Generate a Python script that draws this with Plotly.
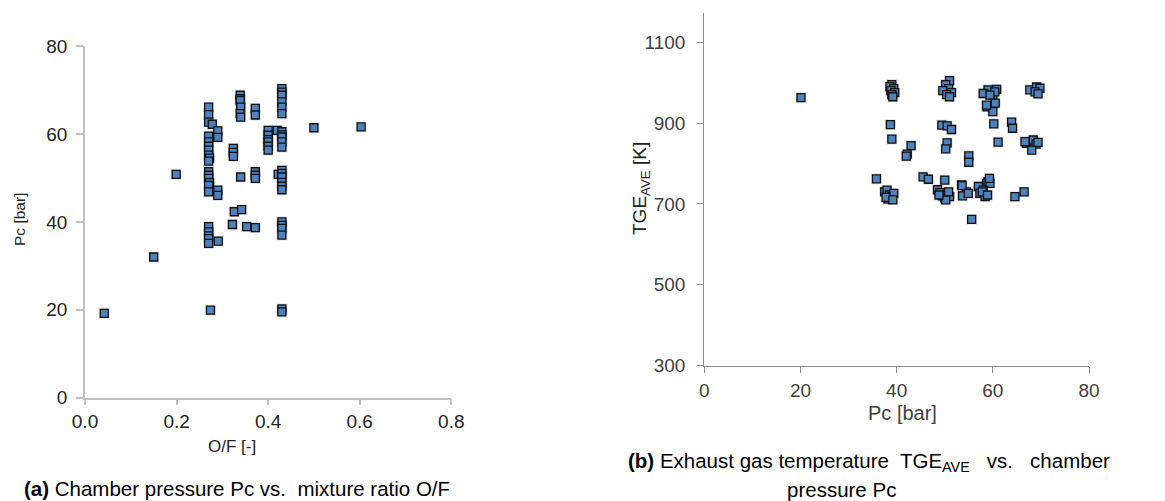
import plotly.graph_objects as go

# ---------------- data: (a) Pc vs O/F ----------------
of_a = [0.042, 0.150, 0.199, 0.274,
        0.27, 0.27, 0.27, 0.27, 0.27, 0.27, 0.27, 0.27, 0.272, 0.27, 0.27, 0.27, 0.27, 0.272, 0.27, 0.27,
        0.27, 0.27, 0.27, 0.27, 0.27,
        0.278, 0.29, 0.29, 0.29, 0.29, 0.291,
        0.322, 0.326, 0.342, 0.324, 0.324, 0.324,
        0.339, 0.339, 0.339, 0.34, 0.339, 0.34, 0.34, 0.353,
        0.372, 0.372, 0.372, 0.372, 0.372, 0.372,
        0.40, 0.40, 0.40, 0.40, 0.40, 0.40, 0.42, 0.422,
        0.43, 0.43, 0.43, 0.43, 0.43, 0.43, 0.43, 0.43, 0.43, 0.43, 0.43, 0.43,
        0.43, 0.43, 0.43, 0.43, 0.43, 0.43, 0.43, 0.43, 0.43, 0.43, 0.43,
        0.50, 0.603]
pc_a = [19.2, 32.0, 50.8, 19.9,
        66.1, 64.4, 62.7, 59.5, 58.2, 57.2, 56.3, 55.2, 54.5, 53.8, 51.4, 50.6, 49.9, 48.9, 48.3, 46.8,
        38.9, 37.7, 36.8, 36.2, 35.1,
        62.2, 60.7, 59.2, 47.2, 46.0, 35.6,
        39.4, 42.3, 42.8, 56.7, 55.8, 54.9,
        68.8, 68.0, 67.6, 66.1, 64.6, 63.8, 50.2, 38.9,
        38.7, 65.8, 64.3, 51.4, 50.6, 49.9,
        60.8, 59.7, 58.7, 58.2, 57.2, 56.3, 60.8, 50.8,
        70.3, 69.5, 68.8, 67.3, 66.1, 64.6, 60.5, 59.8, 59.3, 58.2, 57.0, 51.7,
        51.0, 50.2, 49.0, 48.1, 47.3, 40.0, 39.2, 38.5, 37.0, 20.2, 19.5,
        61.4, 61.6]

# ---------------- data: (b) TGE_AVE vs Pc ----------------
pc_b = [20.1,
        39.0, 38.6, 39.4, 38.8, 39.6, 39.0, 39.2,
        38.7, 39.0, 43.0, 42.2, 42.0, 35.8,
        37.5, 38.0, 38.5, 39.0, 38.2, 39.4, 37.8, 39.2,
        51.0, 50.2, 50.8, 49.6, 51.4, 50.4, 51.0,
        49.4, 50.5, 51.4, 50.5, 50.2, 55.0, 55.0, 45.5, 46.6, 50.0,
        48.5, 49.0, 49.5, 50.0, 50.5, 51.0, 50.2, 48.8, 50.8,
        53.5, 54.5, 53.7, 53.6, 54.9, 55.6,
        59.0, 60.8, 60.0, 58.0, 60.4, 59.4, 58.8, 60.5, 60.0, 58.7,
        60.2, 63.9, 64.1, 61.1,
        57.0, 58.7, 57.3, 58.4, 59.0, 59.4, 58.0, 59.3, 57.8, 58.9,
        64.6, 66.5,
        67.7, 69.1, 69.8, 68.8, 69.4, 67.0, 68.4, 69.0, 68.1, 66.7, 69.4]
tge_b = [963,
         995, 990, 985, 980, 975, 970, 965,
         896, 860, 844, 823, 818, 762,
         730, 734, 722, 718, 712, 726, 716, 710,
         1005, 995, 985, 980, 975, 970, 965,
         895, 893, 884, 851, 836, 819, 803, 767, 761, 759,
         735, 728, 720, 715, 725, 718, 710, 722, 730,
         747, 730, 720, 745, 726, 662,
         982, 983, 969, 973, 977, 969, 940, 949, 928, 944,
         898, 902, 887, 853,
         743, 751, 726, 718, 755, 751, 734, 763, 730, 722,
         718, 730,
         982, 989, 986, 977, 972, 850, 858, 848, 833, 854, 852]

W, H = 1165, 501
FONT = "Liberation Sans, Arial, sans-serif"
FILL = "#4F81BD"

fig = go.Figure()

marker = dict(symbol="square", size=8, color=FILL, line=dict(color="#111111", width=1.3))
halo = dict(symbol="square", size=11, color="rgba(0,0,0,0.10)", line=dict(width=0))

fig.add_trace(go.Scatter(x=of_a, y=pc_a, mode="markers", marker=halo, xaxis="x", yaxis="y", hoverinfo="skip"))
fig.add_trace(go.Scatter(x=of_a, y=pc_a, mode="markers", marker=marker, xaxis="x", yaxis="y"))
fig.add_trace(go.Scatter(x=pc_b, y=tge_b, mode="markers", marker=halo, xaxis="x2", yaxis="y2", hoverinfo="skip"))
fig.add_trace(go.Scatter(x=pc_b, y=tge_b, mode="markers", marker=marker, xaxis="x2", yaxis="y2"))

def px_x(p):
    return p / W

def px_y(p):
    return 1 - p / H

axis_common = dict(showgrid=False, zeroline=False, ticks="outside", showline=True, mirror=False,
                   automargin=False)

fig.update_layout(
    width=W, height=H, margin=dict(l=0, r=0, t=0, b=0, autoexpand=False),
    paper_bgcolor="white", plot_bgcolor="white", showlegend=False,
    font=dict(family=FONT, color="#222222"),
    xaxis=dict(domain=[px_x(85), px_x(451.3)], range=[0, 0.8], tickvals=[0, 0.2, 0.4, 0.6, 0.8],
               tickformat=".1f", anchor="y", linecolor="#BFBFBF", tickcolor="#BFBFBF", ticklen=6,
               linewidth=1.5, tickwidth=1.5,
               tickfont=dict(size=19, color="#222222"), ticklabelstandoff=0, **axis_common),
    yaxis=dict(domain=[px_y(397.7), px_y(46)], range=[0, 80], tickvals=[0, 20, 40, 60, 80],
               anchor="x", linecolor="#BFBFBF", tickcolor="#BFBFBF", ticklen=7,
               linewidth=1.5, tickwidth=1.5,
               tickfont=dict(size=19, color="#222222"), ticklabelstandoff=5, **axis_common),
    xaxis2=dict(domain=[px_x(704.3), px_x(1089)], range=[0, 80], tickvals=[0, 20, 40, 60, 80],
                anchor="y2", linecolor="#8C8C8C", tickcolor="#8C8C8C", ticklen=6,
                linewidth=1.3, tickwidth=1.3,
                tickfont=dict(size=19, color="#404040"), ticklabelstandoff=1, **axis_common),
    yaxis2=dict(domain=[px_y(365.7), px_y(13)], range=[300, 1172], tickvals=[300, 500, 700, 900, 1100],
                anchor="x2", linecolor="#8C8C8C", tickcolor="#8C8C8C", ticklen=6,
                linewidth=1.3, tickwidth=1.3,
                tickfont=dict(size=19, color="#404040"), ticklabelstandoff=8, **axis_common),
)

ann = []
def add(text, x, y, size, angle=0, color="#222222"):
    ann.append(dict(text=text, x=px_x(x), y=px_y(y), xref="paper", yref="paper",
                    xanchor="center", yanchor="middle", showarrow=False, textangle=angle,
                    font=dict(size=size, color=color, family=FONT)))

add("Pc [bar]", 19, 220, 15.5, angle=-90)
add("O/F [-]", 231.5, 446, 17)
add("<b>(a)</b> Chamber pressure Pc vs.&nbsp; mixture ratio O/F", 236.5, 488, 20.5, color="#000000")
add("Pc [bar]", 902, 413, 20, color="#404040")
add("TGE<sub>AVE</sub> [K]", 641, 188, 19, angle=-90, color="#222222")
add("<b>(b)</b> Exhaust gas temperature&nbsp; TGE<sub>AVE</sub>&nbsp;&nbsp; vs.&nbsp;&nbsp; chamber",
    868.5, 462, 20.5, color="#000000")
add("pressure Pc", 841, 489, 20.5, color="#000000")

fig.update_layout(annotations=ann)
fig.write_html("out.html")
